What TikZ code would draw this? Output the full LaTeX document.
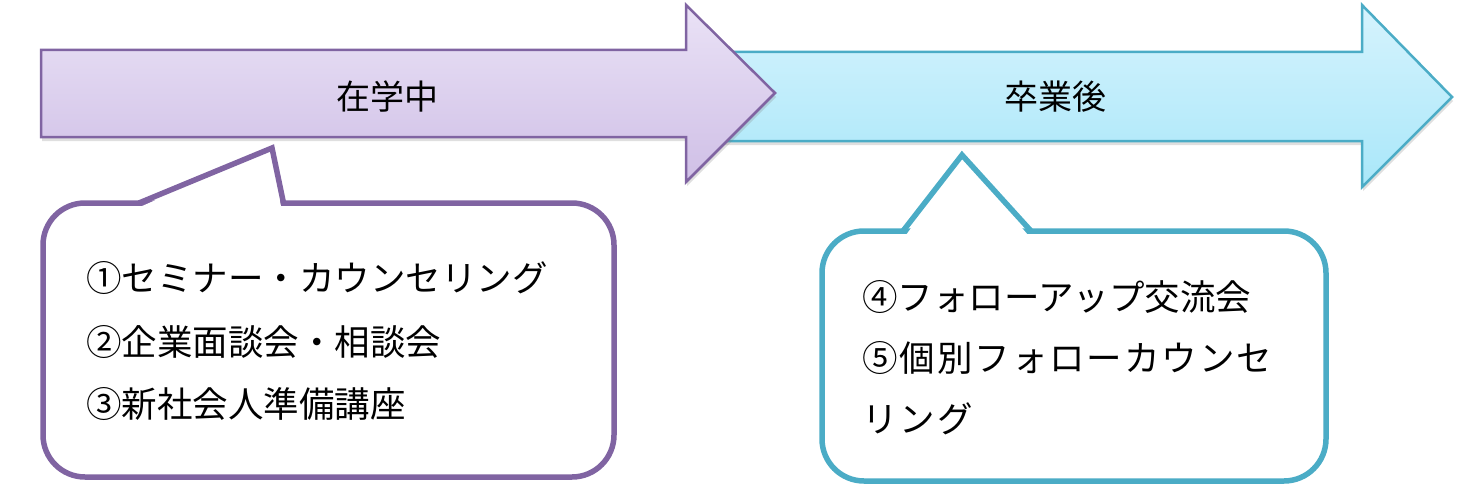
\documentclass[tikz,border=0pt]{standalone}
\usepackage{fontspec}
\setmainfont{Noto Sans CJK JP}
\usetikzlibrary{shadows}
\definecolor{pline}{HTML}{8064A2}
\definecolor{ptop}{HTML}{EAE2F6}
\definecolor{pbot}{HTML}{CFBFE6}
\definecolor{cline}{HTML}{4BACC6}
\definecolor{ctop}{HTML}{D6F3FD}
\definecolor{cbot}{HTML}{A9E7F9}
\tikzset{
  arrowP/.style={draw=pline, line width=2.5pt, line join=miter, top color=ptop, bottom color=pbot,
    drop shadow={opacity=0.25, shadow xshift=1pt, shadow yshift=-4pt}},
  arrowC/.style={draw=cline, line width=2.5pt, line join=miter, top color=ctop, bottom color=cbot,
    drop shadow={opacity=0.25, shadow xshift=1pt, shadow yshift=-4pt}},
  bigtext/.style={inner sep=0pt, font=\fontsize{34}{40}\selectfont},
  calltext/.style={inner sep=0pt, anchor=west, font=\fontsize{35.5}{40}\selectfont},
  callbox/.style={line width=5.5pt, fill=white, rounded corners=42pt, inner sep=0pt},
}
\begin{document}
\begin{tikzpicture}[x=1pt, y=-1pt]
\useasboundingbox (0,0) rectangle (1472,503);
% cyan arrow (behind)
\path[arrowC] (720,52) -- (1362,52) -- (1362,5) -- (1452,97) -- (1362,187) -- (1362,141) -- (720,141) -- cycle;
\node[bigtext] (t2) at (1055,97) {卒業後};
% purple arrow
\path[arrowP] (41,50) -- (686,50) -- (686,5) -- (775,93) -- (686,182) -- (686,137) -- (41,137) -- cycle;
\node[bigtext] (t1) at (387,97) {在学中};
% left callout
\node[callbox, draw=pline, minimum width=571pt, minimum height=274pt] (c1) at (328.5,340) {};
\fill[white] (141,206.5) -- (272,149) -- (281,206.5) -- cycle;
\coordinate (p1a) at (139,203);
\coordinate (p1t) at (272,148);
\coordinate (p1b) at (283.5,203);
\draw[pline, line width=5.5pt, line join=miter, miter limit=20] (p1a) -- (p1t) -- (p1b);
\node[calltext] (l1) at (86,278) {①セミナー・カウンセリング};
\node[calltext] (l2) at (86,342) {②企業面談会・相談会};
\node[calltext] (l3) at (86,404) {③新社会人準備講座};
% right callout
\node[callbox, draw=cline, minimum width=504pt, minimum height=250pt] (c2) at (1074,356) {};
\fill[white] (906,235) -- (962,158) -- (1028,235) -- cycle;
\coordinate (p2a) at (903,231);
\coordinate (p2t) at (962,155);
\coordinate (p2b) at (1031,231);
\draw[cline, line width=5.5pt, line join=miter, miter limit=20] (p2a) -- (p2t) -- (p2b);
\node[calltext] (r1) at (862,297) {④フォローアップ交流会};
\node[calltext] (r2) at (862,358) {\addfontfeature{LetterSpace=5.5}⑤個別フォローカウンセ};
\node[calltext] (r3) at (862,419) {\addfontfeature{LetterSpace=5.5}リング};
\end{tikzpicture}
\end{document}
